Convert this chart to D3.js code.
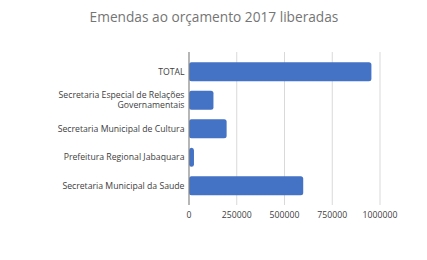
<!DOCTYPE html>
<html>
<head>
<meta charset="utf-8">
<script src="https://cdn.jsdelivr.net/npm/d3@7"></script>
<style>
  body { margin: 0; background: #fff; }
  #chart { width: 427px; height: 260px; }
</style>
</head>
<body>
<div id="chart"></div>
<script>
const width = 427;
const height = 260;

const categories = [
  'TOTAL',
  'Secretaria Especial de Relações Governamentais',
  'Secretaria Municipal de Cultura',
  'Prefeitura Regional Jabaquara',
  'Secretaria Municipal da Saude'
];
// wrapped label lines as they appear
const labelLines = [
  ['TOTAL'],
  ['Secretaria Especial de Relações', 'Governamentais'],
  ['Secretaria Municipal de Cultura'],
  ['Prefeitura Regional Jabaquara'],
  ['Secretaria Municipal da Saude']
];
const values = [955000, 128000, 197000, 26000, 598000];
const tickValues = [0, 250000, 500000, 750000, 1000000];

const svg = d3.select('#chart')
  .append('svg')
  .attr('width', width)
  .attr('height', height);

const font = '"Open Sans", "Noto Sans", sans-serif';

svg.append('text')
  .attr('x', 214)
  .attr('y', 21.5)
  .attr('text-anchor', 'middle')
  .attr('font-size', '13.7px')
  .attr('fill', '#757575')
  .attr('font-family', font)
  .text('Emendas ao orçamento 2017 liberadas');

const x = d3.scaleLinear().domain([0, 1000000]).range([189, 380]);
const y = d3.scaleBand().domain(categories).range([57.5, 200]).paddingInner(0.33).paddingOuter(0.165);

// gridlines
svg.append('g')
  .selectAll('line')
  .data(tickValues.slice(1))
  .enter()
  .append('line')
  .attr('x1', d => x(d))
  .attr('x2', d => x(d))
  .attr('y1', 52)
  .attr('y2', 205)
  .attr('stroke', '#d9d9d9')
  .attr('stroke-width', 1);

// bars
svg.append('g')
  .selectAll('rect')
  .data(values)
  .enter()
  .append('rect')
  .attr('x', x(0))
  .attr('y', (d, i) => y(categories[i]))
  .attr('width', d => x(d) - x(0))
  .attr('height', y.bandwidth())
  .attr('rx', 2.5)
  .attr('fill', '#4472c4');

// vertical axis line
svg.append('line')
  .attr('x1', x(0))
  .attr('x2', x(0))
  .attr('y1', 52)
  .attr('y2', 205)
  .attr('stroke', '#868686')
  .attr('stroke-width', 1.2);

// category labels
const labels = svg.append('g')
  .selectAll('text')
  .data(categories)
  .enter()
  .append('text')
  .attr('text-anchor', 'end')
  .attr('font-size', '8.7px')
  .attr('fill', '#404040')
  .attr('font-family', font);

labels.each(function (d, i) {
  const lines = labelLines[i];
  const cy = y(d) + y.bandwidth() / 2;
  const lh = 10;
  const start = cy - (lines.length - 1) * lh / 2 + 3;
  d3.select(this).selectAll('tspan')
    .data(lines)
    .enter()
    .append('tspan')
    .attr('x', 184.5)
    .attr('y', (l, j) => start + j * lh)
    .text(l => l);
});

// tick labels
svg.append('g')
  .selectAll('text')
  .data(tickValues)
  .enter()
  .append('text')
  .attr('x', d => x(d))
  .attr('y', 218)
  .attr('text-anchor', 'middle')
  .attr('font-size', '8.7px')
  .attr('fill', '#404040')
  .attr('font-family', font)
  .text(d => d);
</script>
</body>
</html>
